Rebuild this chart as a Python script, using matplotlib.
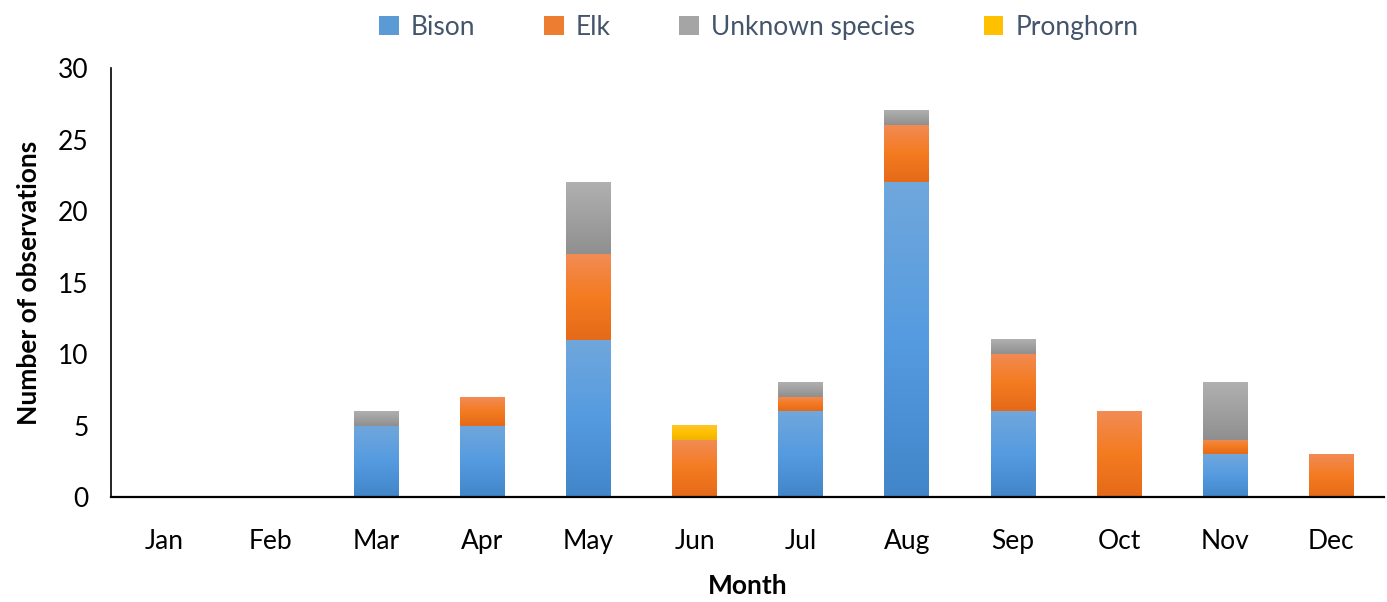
import matplotlib
matplotlib.use("Agg")
import matplotlib.pyplot as plt
import numpy as np
from matplotlib.colors import LinearSegmentedColormap
from matplotlib.patches import Patch

months = ["Jan", "Feb", "Mar", "Apr", "May", "Jun", "Jul", "Aug", "Sep", "Oct", "Nov", "Dec"]
bison = [0, 0, 5, 5, 11, 0, 6, 22, 6, 0, 3, 0]
elk = [0, 0, 0, 2, 6, 4, 1, 4, 4, 6, 1, 3]
unknown = [0, 0, 1, 0, 5, 0, 1, 1, 1, 0, 4, 0]
pronghorn = [0, 0, 0, 0, 0, 1, 0, 0, 0, 0, 0, 0]

series = [
    ("Bison", bison, ["#4285c9", "#559be0", "#70a7dc"], "#5b9bd5"),
    ("Elk", elk, ["#e56a19", "#f47b20", "#f28b55"], "#ed7d31"),
    ("Unknown species", unknown, ["#8f8f8f", "#a0a0a0", "#b0b0b0"], "#a5a5a5"),
    ("Pronghorn", pronghorn, ["#f0b400", "#ffc000", "#ffc62a"], "#ffc000"),
]

plt.rcParams['font.family'] = ['Lato', 'DejaVu Sans']

fig = plt.figure(figsize=(13.87, 6.02), dpi=100)
ax = fig.add_axes([0.080, 0.174, 0.918, 0.713])

x = np.arange(len(months))
bottom = np.zeros(len(months))
grad = np.linspace(0, 1, 256).reshape(-1, 1)
handles = []
for name, vals, cols, solid in series:
    vals = np.array(vals, dtype=float)
    bars = ax.bar(x, vals, width=0.42, bottom=bottom, color="none", edgecolor="none")
    cmap = LinearSegmentedColormap.from_list(name, cols)
    for b, v in zip(bars, vals):
        if v <= 0:
            continue
        x0, y0 = b.get_x(), b.get_y()
        w, h = b.get_width(), b.get_height()
        ax.imshow(grad, extent=[x0, x0 + w, y0, y0 + h], origin="lower",
                  cmap=cmap, aspect="auto", zorder=2, interpolation="bilinear")
    bottom += vals
    handles.append(Patch(facecolor=solid, edgecolor="none", label=name))

ax.set_xlim(-0.5, 11.5)
ax.set_ylim(0, 30)
ax.set_yticks([0, 5, 10, 15, 20, 25, 30])
ax.set_xticks(x)
ax.set_xticklabels(months)
ax.tick_params(axis="both", length=0, labelsize=19, colors="black")
ax.tick_params(axis="y", pad=16)
ax.tick_params(axis="x", pad=23)
for s in ["top", "right"]:
    ax.spines[s].set_visible(False)
ax.spines["left"].set_linewidth(1.2)
ax.spines["bottom"].set_linewidth(1.6)

ax.set_xlabel("Month", fontsize=19, fontweight="bold", labelpad=14)
ax.set_ylabel("Number of observations", fontsize=19, fontweight="bold", labelpad=12)

leg = fig.legend(handles=handles, loc="upper center", ncol=4, frameon=False,
                 bbox_to_anchor=(0.547, 1.015), fontsize=19, handlelength=0.75,
                 handleheight=0.75, columnspacing=2.6, handletextpad=0.45)
for t in leg.get_texts():
    t.set_color("#44546a")

fig.savefig("out.png", dpi=100)
